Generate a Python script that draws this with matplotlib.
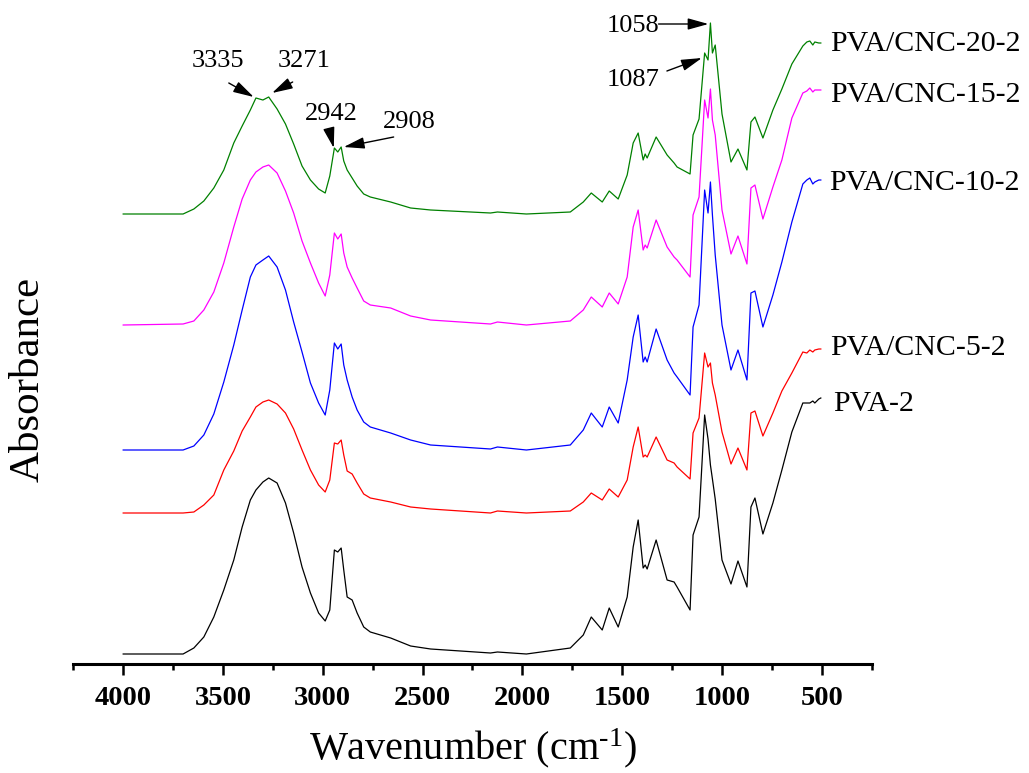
import matplotlib
matplotlib.use("Agg")
import matplotlib.pyplot as plt
import numpy as np
from matplotlib.ticker import MultipleLocator

# wavenumber grid (cm-1) shared by all spectra
wavenumber = [4000, 3700, 3646, 3596, 3546, 3496, 3446, 3404, 3363, 3335, 3300, 3271,
              3229, 3187, 3146, 3104, 3062, 3021, 2988, 2965, 2942, 2925, 2908, 2895,
              2878, 2853, 2828, 2795, 2762, 2660, 2560, 2460, 2160, 2125, 1980, 1760,
              1695, 1655, 1600, 1565, 1520, 1475, 1445, 1420, 1395, 1385, 1375, 1330,
              1275, 1240, 1225, 1160, 1145, 1115, 1087, 1070, 1058, 1048, 1034, 1000,
              955, 920, 875, 855, 835, 795, 745, 700, 650, 595, 575, 560, 545, 535,
              515, 505]

# absorbance (arbitrary units, each above its own baseline)
pva_2 = [0, 0, 6, 17, 37, 64, 94, 127, 154, 164, 172, 176,
         171, 151, 121, 87, 61, 41, 33, 44, 104, 102, 106, 84,
         57, 54, 41, 27, 22, 16, 8, 5, 1, 2, 0, 6,
         19, 37, 24, 46, 27, 57, 107, 134, 86, 89, 85, 114,
         74, 72, 67, 44, 119, 137, 239, 215, 189, 175, 155, 94,
         70, 93, 67, 147, 156, 120, 151, 184, 222, 251, 251, 251, 253, 251,
         255, 256]

pva_cnc_5 = [0, 0, 1, 8, 18, 43, 62, 82, 96, 106, 111, 113,
             109, 100, 84, 63, 43, 28, 21, 33, 70, 69, 73, 58,
             42, 39, 30, 19, 15, 11, 6, 4, 0, 2, 0, 2,
             11, 20, 13, 24, 16, 33, 66, 86, 56, 58, 56, 76,
             53, 50, 46, 34, 80, 95, 160, 146, 150, 130, 118, 81,
             49, 65, 43, 100, 102, 77, 100, 122, 140, 161, 160, 163, 161, 163,
             164, 164]

pva_cnc_10 = [0, 0, 4, 15, 36, 68, 105, 140, 173, 185, 190, 194,
              183, 160, 128, 98, 67, 47, 35, 60, 107, 101, 106, 85,
              70, 53, 40, 28, 23, 17, 10, 5, 1, 3, 0, 5,
              20, 37, 23, 43, 27, 70, 113, 135, 88, 93, 88, 121,
              90, 77, 73, 55, 123, 145, 260, 237, 268, 235, 195, 125,
              80, 100, 70, 157, 159, 123, 155, 188, 228, 266, 270, 272, 266, 268,
              270, 270]

pva_cnc_15 = [0, 1, 4, 15, 33, 62, 98, 126, 145, 153, 158, 160,
              152, 134, 112, 84, 62, 42, 29, 50, 92, 86, 91, 72,
              58, 47, 37, 24, 20, 17, 9, 5, 1, 3, 0, 4,
              15, 28, 18, 32, 21, 48, 98, 115, 75, 80, 77, 105,
              78, 68, 65, 48, 110, 128, 225, 207, 236, 205, 190, 115,
              71, 89, 61, 137, 140, 106, 138, 165, 207, 232, 234, 237, 233, 235,
              235, 235]

pva_cnc_20 = [0, 0, 5, 13, 26, 44, 71, 88, 104, 116, 114, 117,
              105, 90, 70, 48, 34, 25, 21, 38, 66, 62, 67, 53,
              44, 36, 28, 20, 17, 12, 6, 4, 1, 2, 0, 2,
              12, 21, 12, 23, 15, 39, 71, 81, 54, 60, 56, 77,
              59, 51, 47, 40, 79, 95, 161, 154, 191, 161, 169, 100,
              52, 65, 44, 92, 97, 76, 104, 125, 150, 168, 172, 173, 169, 172,
              171, 171]

names = ["PVA-2", "PVA/CNC-5-2", "PVA/CNC-10-2", "PVA/CNC-15-2", "PVA/CNC-20-2"]
spectra = [pva_2, pva_cnc_5, pva_cnc_10, pva_cnc_15, pva_cnc_20]
colors = ["black", "#ff0000", "#0000ff", "#ff00ff", "#008000"]
offsets = [10, 151, 214, 339, 450]          # vertical stacking
label_y = [253, 309, 474, 562, 613]         # baseline of right-hand labels
label_x = [443, 458, 462, 458, 458]

serif = ["Liberation Serif", "DejaVu Serif"]
plt.rcParams["font.family"] = serif
plt.rcParams["mathtext.fontset"] = "custom"
plt.rcParams["mathtext.rm"] = "Liberation Serif"
plt.rcParams["mathtext.default"] = "regular"

fig = plt.figure(figsize=(10.29, 7.73), dpi=100)
ax = fig.add_axes([73.3 / 1029, 109 / 773, 798.4 / 1029, 654 / 773])

for spec, col, off in zip(spectra, colors, offsets):
    ax.plot(wavenumber, np.array(spec) + off, color=col, lw=0.9)

for name, lx, ly in zip(names, label_x, label_y):
    ax.text(lx, ly, name, fontsize=21.5, va="baseline", ha="left", clip_on=False)

# peak annotations
arrow = dict(arrowstyle="-|>,head_length=0.9,head_width=0.25", color="black",
             lw=1.0, mutation_scale=14, shrinkA=0, shrinkB=0)
peaks = [("3335", (3523, 597), (3471, 581), (3346, 567)),
         ("3271", (3092, 597), (3151, 582), (3254, 571)),
         ("2942", (2957, 544), (2965, 532), (2945, 516)),
         ("2908", (2566, 536), (2645, 527), (2895, 517)),
         ("1058", (1447, 632), (1318, 640), (1068, 640)),
         ("1087", (1447, 578), (1276, 593), (1101, 606))]
for txt, tpos, tail, head in peaks:
    ax.text(tpos[0], tpos[1], txt, fontsize=19, ha="center", va="baseline")
    ax.annotate("", xy=head, xytext=tail, arrowprops=arrow)

ax.set_xlim(4250, 250)
ax.set_ylim(0, 654)
ax.xaxis.set_major_locator(MultipleLocator(500))
ax.xaxis.set_minor_locator(MultipleLocator(250))
for s in ["top", "right", "left"]:
    ax.spines[s].set_visible(False)
ax.spines["bottom"].set_linewidth(2.2)
ax.set_yticks([])
ax.tick_params(axis="x", which="major", length=8, width=1.8, pad=8)
ax.tick_params(axis="x", which="minor", length=4, width=1.8)
for lab in ax.get_xticklabels():
    lab.set_fontweight("bold")
    lab.set_fontsize(20.5)

ax.set_xlabel("Wavenumber (cm$^{\\text{-1}}$)", fontsize=29, labelpad=11)
fig.text(28 / 1029, 1 - 379 / 773, "Absorbance", fontsize=31, rotation=90,
         ha="center", va="center")

fig.savefig("out.png", dpi=100)
